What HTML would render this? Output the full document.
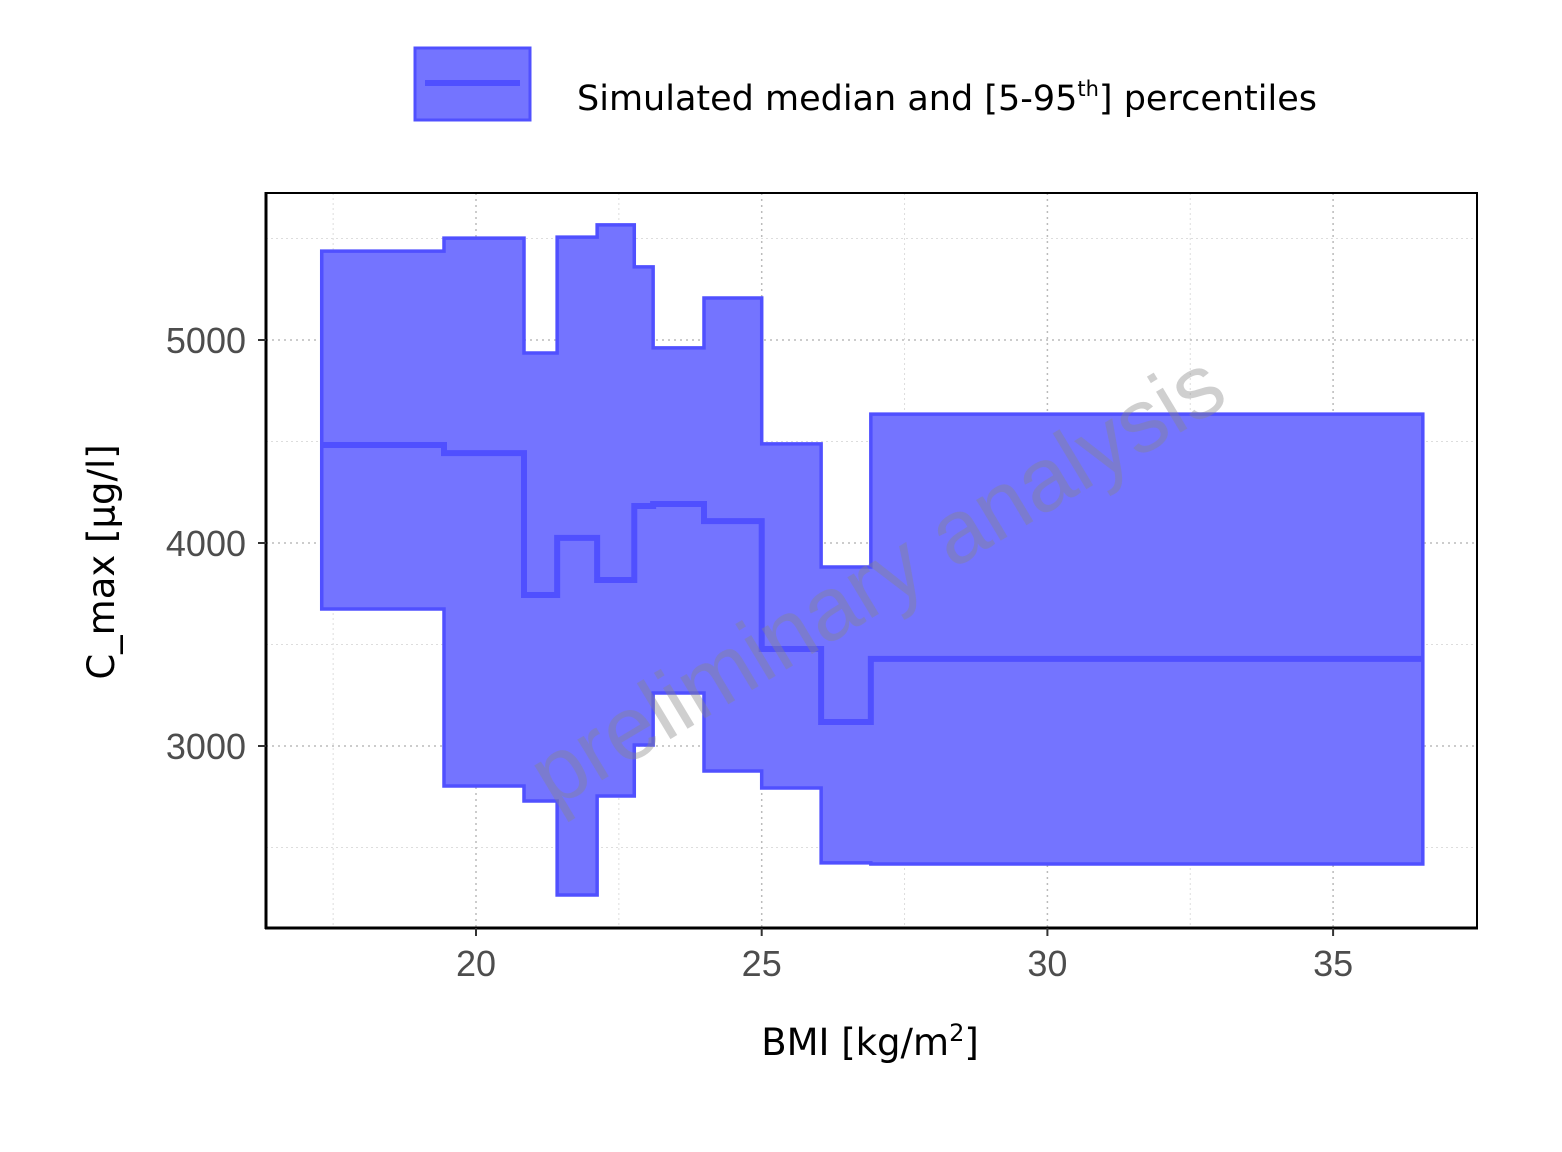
<!DOCTYPE html>
<html><head><meta charset="utf-8"><style>
body{margin:0;background:#fff}
svg text{font-family:"Liberation Sans",sans-serif}
</style></head><body>
<svg id="c" width="1562" height="1147" xmlns="http://www.w3.org/2000/svg">
<g>
<rect x="415" y="48" width="115" height="72" fill="#7474ff" stroke="#5050ff" stroke-width="3"/>
<line x1="425" y1="83" x2="520" y2="83" stroke="#5050ff" stroke-width="6"/>
<text x="577" y="110" font-size="35" fill="#000" style="font-family:'DejaVu Sans','Liberation Sans',sans-serif">Simulated median and [5-95<tspan font-size="21" dy="-14">th</tspan><tspan dy="14">] percentiles</tspan></text>
</g>
<g id="grid"></g>
<g id="marks"></g>
<text x="877" y="610" font-size="90" fill="#888" fill-opacity="0.4" text-anchor="middle" transform="rotate(-31 877 580)">preliminary analysis</text>
<rect x="266" y="193" width="1211" height="735" fill="none" stroke="#000" stroke-width="2"/>
<line x1="266" y1="192" x2="266" y2="929" stroke="#000" stroke-width="3"/>
<line x1="265" y1="928" x2="1478" y2="928" stroke="#000" stroke-width="3"/>
<g id="axes"></g>
<text x="870" y="1055" font-size="37" text-anchor="middle" style="font-family:'DejaVu Sans','Liberation Sans',sans-serif">BMI [kg/m<tspan font-size="24" dy="-14">2</tspan><tspan dy="14">]</tspan></text>
<text x="0" y="0" font-size="37" text-anchor="middle" transform="translate(114 562) rotate(-90)" style="font-family:'DejaVu Sans','Liberation Sans',sans-serif">C_max [µg/l]</text>
</svg>
<script>
const bmiEdges=[17.30,19.44,20.84,21.42,22.12,22.77,23.10,23.99,25.0,26.04,26.91,36.57];
const upper=[5438,5502,4936,5507,5567,5360,4961,5207,4488,3882,4635];
const median=[4483,4443,3744,4025,3818,4182,4192,4108,3478,3118,3429];
const lower=[3675,2803,2729,2266,2754,3005,3261,2877,2793,2424,2419];
const xTicks=[20,25,30,35];
const yTicks=[3000,4000,5000];
const xMinor=[17.5,22.5,27.5,32.5];
const yMinor=[2500,3500,4500,5500];
const X=v=>476+(v-20)*57.14;
const Y=v=>340-(v-5000)*0.203;
const NS="http://www.w3.org/2000/svg";
function mk(p,t,a){const e=document.createElementNS(NS,t);for(const k in a)e.setAttribute(k,a[k]);p.appendChild(e);return e;}
const grid=document.getElementById('grid'),marks=document.getElementById('marks'),axes=document.getElementById('axes');
xMinor.forEach(v=>{const l=mk(grid,'line',{x1:X(v),x2:X(v),y1:193,y2:928,stroke:'#ddd','stroke-width':1,'stroke-dasharray':'2,3'});

});
yMinor.forEach(v=>{const l=mk(grid,'line',{x1:266,x2:1477,y1:Y(v),y2:Y(v),stroke:'#ddd','stroke-width':1,'stroke-dasharray':'2,3'});

});
xTicks.forEach(v=>{const l=mk(grid,'line',{x1:X(v),x2:X(v),y1:193,y2:928,stroke:'#bbb','stroke-width':1.5,'stroke-dasharray':'2,4'});


const t=mk(axes,'line',{x1:X(v),x2:X(v),y1:928,y2:936,stroke:'#333','stroke-width':2});


const tx=mk(axes,'text',{x:X(v),y:976,'font-size':36,fill:'#4d4d4d','text-anchor':'middle'});tx.textContent=v;

});
yTicks.forEach(v=>{const l=mk(grid,'line',{x1:266,x2:1477,y1:Y(v),y2:Y(v),stroke:'#bbb','stroke-width':1.5,'stroke-dasharray':'2,4'});


const t=mk(axes,'line',{x1:258,x2:266,y1:Y(v),y2:Y(v),stroke:'#333','stroke-width':2});


const tx=mk(axes,'text',{x:246,y:Y(v)+13,'font-size':36,fill:'#4d4d4d','text-anchor':'end'});tx.textContent=v;

});
function stepPts(vals){const p=[];vals.forEach((v,i)=>{p.push([X(bmiEdges[i]),Y(v)],[X(bmiEdges[i+1]),Y(v)]);});return p;}
const up=stepPts(upper),lo=stepPts(lower).reverse();
const band=mk(marks,'path',{d:'M'+up.concat(lo).map(p=>p.join(',')).join('L')+'Z',fill:'#7474ff',stroke:'#5050ff','stroke-width':3.5});


const med=mk(marks,'path',{d:'M'+stepPts(median).map(p=>p.join(',')).join('L'),fill:'none',stroke:'#5050ff','stroke-width':6});


</script>
</body></html>
